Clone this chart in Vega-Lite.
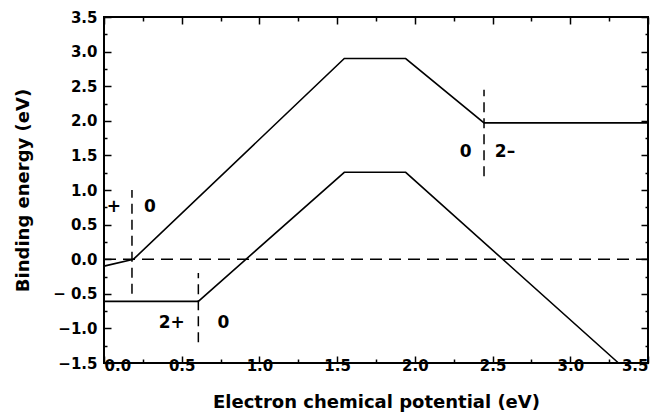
{
  "$schema": "https://vega.github.io/schema/vega-lite/v6.json",
  "width": 544,
  "height": 346,
  "autosize": "none",
  "padding": {"left": 104, "top": 17, "right": 14, "bottom": 54},
  "background": "white",
  "config": {
    "view": {"stroke": "black", "strokeWidth": 2},
    "axis": {
      "grid": false,
      "domain": false,
      "tickColor": "black",
      "tickWidth": 1.5,
      "labelColor": "black",
      "labelFont": "DejaVu Sans",
      "labelFontWeight": "bold",
      "labelFontSize": 15,
      "titleFont": "DejaVu Sans",
      "titleFontWeight": "bold",
      "titleFontSize": 18,
      "titleColor": "black"
    }
  },
  "datasets": {
    "curves": [
      {"series": "upper", "i": 0, "mu": 0.0, "E": -0.1},
      {"series": "upper", "i": 1, "mu": 0.19, "E": 0.0},
      {"series": "upper", "i": 2, "mu": 1.546, "E": 2.9},
      {"series": "upper", "i": 3, "mu": 1.941, "E": 2.9},
      {"series": "upper", "i": 4, "mu": 2.445, "E": 1.97},
      {"series": "upper", "i": 5, "mu": 3.5, "E": 1.97},
      {"series": "lower", "i": 0, "mu": 0.0, "E": -0.61},
      {"series": "lower", "i": 1, "mu": 0.607, "E": -0.61},
      {"series": "lower", "i": 2, "mu": 1.546, "E": 1.256},
      {"series": "lower", "i": 3, "mu": 1.941, "E": 1.256},
      {"series": "lower", "i": 4, "mu": 3.31, "E": -1.5}
    ],
    "hline": [
      {"x1": 0.0, "x2": 3.5, "E": 0.0}
    ],
    "vlines": [
      {"mu": 0.18, "E1": -0.5, "E2": 1.0},
      {"mu": 0.607, "E1": -1.2, "E2": -0.2},
      {"mu": 2.445, "E1": 1.2, "E2": 2.45}
    ],
    "labels": [
      {"mu": 0.064, "E": 0.75, "text": "+"},
      {"mu": 0.296, "E": 0.75, "text": "0"},
      {"mu": 0.436, "E": -0.92, "text": "2+"},
      {"mu": 0.768, "E": -0.92, "text": "0"},
      {"mu": 2.327, "E": 1.55, "text": "0"},
      {"mu": 2.58, "E": 1.55, "text": "2–"}
    ]
  },
  "resolve": {"axis": {"x": "independent", "y": "independent"}},
  "layer": [
    {
      "data": {"name": "curves"},
      "mark": {"type": "line", "color": "black", "strokeWidth": 1.6},
      "encoding": {
        "x": {
          "field": "mu", "type": "quantitative",
          "scale": {"domain": [0, 3.5], "nice": false, "zero": false},
          "axis": {
            "orient": "bottom",
            "values": [0, 0.5, 1, 1.5, 2, 2.5, 3, 3.5],
            "format": ".1f",
            "tickSize": -7,
            "labelPadding": 2,
            "title": "Electron chemical potential (eV)",
            "titlePadding": 20
          }
        },
        "y": {
          "field": "E", "type": "quantitative",
          "scale": {"domain": [-1.5, 3.5], "nice": false, "zero": false},
          "axis": {
            "orient": "left",
            "values": [-1.5, -1, -0.5, 0, 0.5, 1, 1.5, 2, 2.5, 3, 3.5],
            "labelExpr": "datum.value == -0.5 ? '\u2212 0.5' : (datum.value < 0 ? '\u2212' + format(-datum.value, '.1f') : format(datum.value, '.1f'))",
            "tickSize": -7,
            "labelPadding": 14,
            "title": "Binding energy (eV)",
            "titlePadding": 20
          }
        },
        "detail": {"field": "series"},
        "order": {"field": "i"}
      }
    },
    {
      "data": {"name": "hline"},
      "mark": {"type": "rule", "color": "black", "strokeWidth": 1.5, "strokeDash": [12, 7]},
      "encoding": {
        "x": {
          "field": "x1", "type": "quantitative",
          "scale": {"domain": [0, 3.5], "nice": false, "zero": false},
          "axis": {
            "orient": "bottom",
            "values": [0.25, 0.75, 1.25, 1.75, 2.25, 2.75, 3.25],
            "labels": false,
            "tickSize": -4,
            "title": null
          }
        },
        "x2": {"field": "x2"},
        "y": {
          "field": "E", "type": "quantitative",
          "scale": {"domain": [-1.5, 3.5], "nice": false, "zero": false},
          "axis": {
            "orient": "left",
            "values": [-1.25, -0.75, -0.25, 0.25, 0.75, 1.25, 1.75, 2.25, 2.75, 3.25],
            "labels": false,
            "tickSize": -3,
            "title": null
          }
        }
      }
    },
    {
      "data": {"name": "vlines"},
      "mark": {"type": "rule", "color": "black", "strokeWidth": 1.5, "strokeDash": [10, 6]},
      "encoding": {
        "x": {
          "field": "mu", "type": "quantitative",
          "scale": {"domain": [0, 3.5], "nice": false, "zero": false},
          "axis": {
            "orient": "top",
            "values": [0, 0.5, 1, 1.5, 2, 2.5, 3, 3.5],
            "labels": false,
            "tickSize": -7,
            "title": null
          }
        },
        "y": {
          "field": "E1", "type": "quantitative",
          "scale": {"domain": [-1.5, 3.5], "nice": false, "zero": false},
          "axis": {
            "orient": "right",
            "values": [-1.5, -1, -0.5, 0, 0.5, 1, 1.5, 2, 2.5, 3, 3.5],
            "labels": false,
            "tickSize": -7,
            "title": null
          }
        },
        "y2": {"field": "E2"}
      }
    },
    {
      "data": {"name": "labels"},
      "mark": {"type": "text", "color": "black", "font": "DejaVu Sans", "fontWeight": "bold", "fontSize": 17, "align": "center", "baseline": "middle"},
      "encoding": {
        "x": {
          "field": "mu", "type": "quantitative",
          "scale": {"domain": [0, 3.5], "nice": false, "zero": false},
          "axis": {
            "orient": "top",
            "values": [0.25, 0.75, 1.25, 1.75, 2.25, 2.75, 3.25],
            "labels": false,
            "tickSize": -4,
            "title": null
          }
        },
        "y": {
          "field": "E", "type": "quantitative",
          "scale": {"domain": [-1.5, 3.5], "nice": false, "zero": false},
          "axis": {
            "orient": "right",
            "values": [-1.25, -0.75, -0.25, 0.25, 0.75, 1.25, 1.75, 2.25, 2.75, 3.25],
            "labels": false,
            "tickSize": -3,
            "title": null
          }
        },
        "text": {"field": "text"}
      }
    }
  ]
}
